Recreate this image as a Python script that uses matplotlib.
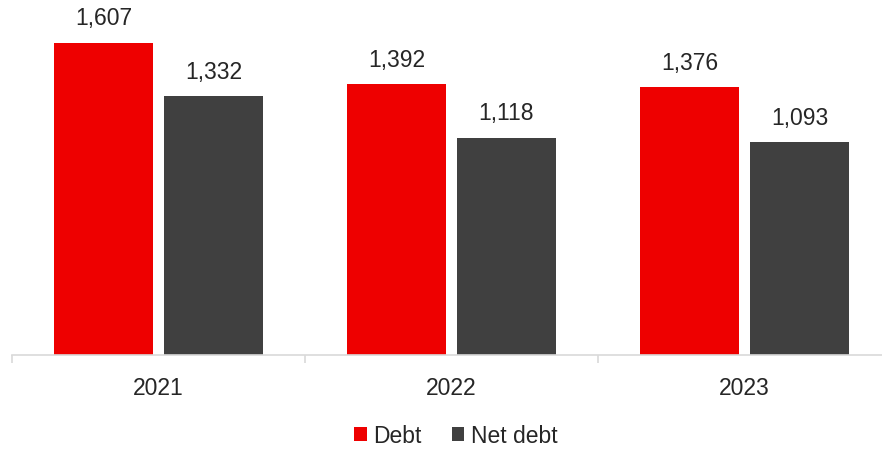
import matplotlib.pyplot as plt
import numpy as np

plt.rcParams['font.family'] = ['Liberation Sans', 'DejaVu Sans']

years = ["2021", "2022", "2023"]
debt = [1607, 1392, 1376]
net_debt = [1332, 1118, 1093]

RED = "#EE0000"
GREY = "#404040"
TEXT = "#262626"
AXIS = "#D9D9D9"
FS = 16.5

W, H = 882, 452
fig = plt.figure(figsize=(W / 100, H / 100), dpi=100)
ax = fig.add_axes([12 / W, (H - 356) / H, 879 / W, 350 / H])

x = np.arange(len(years))
bw = 0.335
off = 0.1875
b1 = ax.bar(x - off, debt, bw, color=RED, label="Debt")
b2 = ax.bar(x + off, net_debt, bw, color=GREY, label="Net debt")

for bars, vals in ((b1, debt), (b2, net_debt)):
    for rect, v in zip(bars, vals):
        ax.annotate(f"{v:,}", (rect.get_x() + rect.get_width() / 2, v),
                    xytext=(0, 9.5), textcoords="offset points",
                    ha="center", va="bottom", fontsize=FS, color=TEXT)

ax.set_xlim(-0.5, 2.5)
ax.set_ylim(0, 1800)
ax.set_yticks([])
for s in ("top", "right", "left"):
    ax.spines[s].set_visible(False)
ax.spines["bottom"].set_color(AXIS)
ax.spines["bottom"].set_linewidth(1.2)

ax.set_xticks(x)
ax.set_xticklabels(years, fontsize=FS, color=TEXT)
ax.tick_params(axis="x", which="major", length=0, pad=15)
ax.set_xticks(np.arange(-0.5, 3.0, 1.0), minor=True)
ax.tick_params(axis="x", which="minor", length=6, color=AXIS, width=1.2)

fig.legend(handles=[b1, b2], loc="center", bbox_to_anchor=(456 / W, 1 - 437 / H),
           ncol=2, frameon=False, fontsize=FS, handlelength=0.55, handleheight=0.55,
           handletextpad=0.3, columnspacing=1.3, labelcolor=TEXT)

fig.savefig("out.png", dpi=100)
